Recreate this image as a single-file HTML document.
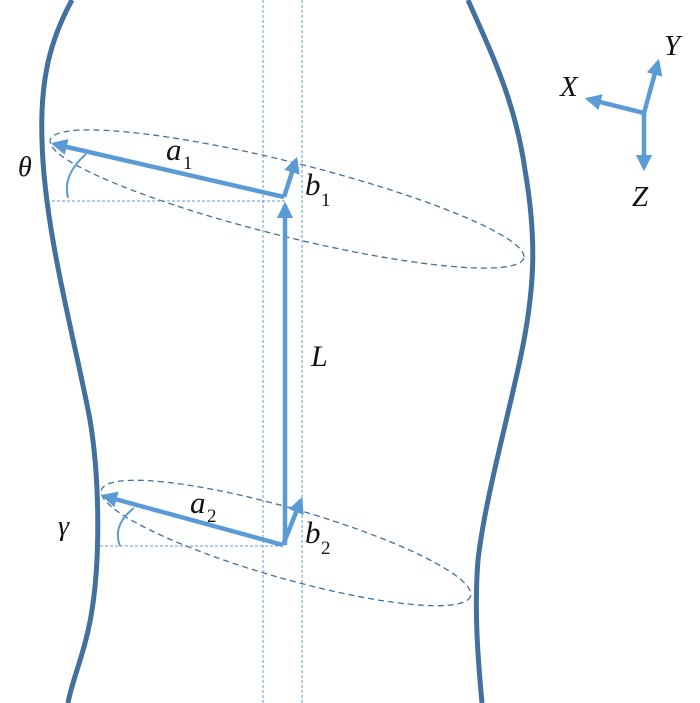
<!DOCTYPE html>
<html><head><meta charset="utf-8"><style>html,body{margin:0;padding:0;background:#fff}svg{display:block}text{font-family:"Liberation Serif",serif;font-style:italic;fill:#111}text.s{font-style:normal}</style></head>
<body>
<svg width="700" height="703" viewBox="0 0 700 703" xmlns="http://www.w3.org/2000/svg">
<defs>
<marker id="ah" viewBox="0 0 10 10" refX="8" refY="5" markerWidth="3.6" markerHeight="3.6" orient="auto" markerUnits="strokeWidth">
<path d="M0,0 L10,5 L0,10 Z" fill="#5b9bd5"/></marker>
</defs>
<g fill="none" stroke="#41719c" stroke-width="5">
<path d="M72,0 C50,40 40,80 42,140 C44,230 75,340 90,420 C100,480 100,560 92,610 C86,650 72,680 68,703"/>
<path d="M468,0 C490,50 515,100 525,170 C537,240 535,290 520,360 C505,430 485,500 478,560 C474,610 478,660 482,703"/>
</g>
<g stroke="#5b9bd5" stroke-width="1" stroke-dasharray="3,2" fill="none">
<line x1="263" y1="0" x2="263" y2="703"/>
<line x1="302" y1="0" x2="302" y2="703"/>
<line x1="52" y1="201" x2="285" y2="201"/>
<line x1="100" y1="546" x2="283" y2="546"/>
</g>
<g stroke="#41719c" stroke-width="1.3" stroke-dasharray="6,4" fill="none">
<ellipse cx="287" cy="199" rx="244" ry="37" transform="rotate(14 287 199)"/>
<ellipse cx="286" cy="543" rx="192" ry="35" transform="rotate(16 286 543)"/>
</g>
<g stroke="#5b9bd5" stroke-width="4.5" fill="none" marker-end="url(#ah)">
<line x1="284" y1="197" x2="54" y2="144"/>
<line x1="284" y1="197" x2="296" y2="160"/>
<line x1="285" y1="545" x2="285" y2="205"/>
<line x1="283" y1="545" x2="104" y2="496"/>
<line x1="283" y1="545" x2="301" y2="500"/>
<line x1="644" y1="113" x2="588" y2="99"/>
<line x1="644" y1="113" x2="658" y2="62"/>
<line x1="644" y1="113" x2="644" y2="168"/>
</g>
<g stroke="#5b9bd5" stroke-width="2" fill="none">
<path d="M86,154 Q62,175 68,198"/>
<path d="M134,508 Q112,525 120,546"/>
</g>
<text x="18" y="176" font-size="28">θ</text>
<text x="166" y="160" font-size="31">a</text><text class="s" x="183" y="169" font-size="19">1</text>
<text x="305" y="195" font-size="31">b</text><text class="s" x="321" y="206" font-size="19">1</text>
<text x="311" y="366" font-size="30">L</text>
<text x="58" y="535" font-size="28">γ</text>
<text x="190" y="513" font-size="31">a</text><text class="s" x="207" y="522" font-size="19">2</text>
<text x="305" y="543" font-size="31">b</text><text class="s" x="321" y="554" font-size="19">2</text>
<text x="560" y="96" font-size="29">X</text>
<text x="664" y="55" font-size="29">Y</text>
<text x="632" y="206" font-size="29">Z</text>
</svg>
</body></html>
